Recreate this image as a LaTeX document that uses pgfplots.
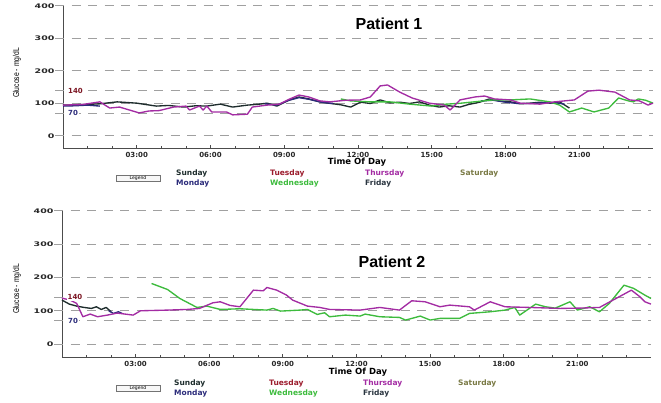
\documentclass[border=0pt]{standalone}
\usepackage{pgfplots}
\pgfplotsset{compat=1.18}
\usepackage{fontspec}
\setmainfont{Liberation Sans}
\newfontfamily\djfont{DejaVu Sans}
\definecolor{csun}{HTML}{1E2D2D}
\definecolor{cmon}{HTML}{2B2B7A}
\definecolor{ctue}{HTML}{9B1C2C}
\definecolor{cwed}{HTML}{3DBB3D}
\definecolor{cthu}{HTML}{A32CA3}
\definecolor{cfri}{HTML}{2A3540}
\definecolor{csat}{HTML}{7A7A45}
\definecolor{cgrid}{HTML}{A0A0A0}
\newcommand{\yl}[1]{\scalebox{1.5}[1]{\djfont\bfseries\fontsize{6.3}{7}\selectfont #1}}
\tikzset{gridline/.style={draw=cgrid, line width=1pt, dash pattern=on 9pt off 7.5pt},
  lblfont/.style={font=\djfont\bfseries\fontsize{7}{8}\selectfont},
  leg/.style={font=\djfont\bfseries\fontsize{7.5}{8}\selectfont, anchor=west, inner sep=0pt}}
\pgfplotsset{glu/.style={scale only axis, xmin=0, xmax=24, ymax=400,
  axis x line=bottom, axis y line=left,
  axis line style={-, draw=black!70, line width=1pt},
  xtick={3,6,...,21}, xticklabels={03:00,06:00,09:00,12:00,15:00,18:00,21:00},
  minor xtick={1,2,4,5,7,8,10,11,13,14,16,17,19,20,22,23},
  tick align=inside, major tick length=4pt, minor tick length=3pt,
  tick style={black!70, line width=0.8pt},
  ytick={0,100,200,300,400}, yticklabels={\yl{0},\yl{100},\yl{200},\yl{300},\yl{400}},
  ytick style={draw=none},
  clip=false,
  xticklabel style={/tikz/lblfont, text=black!85},
  yticklabel style={text=black!85, xshift=-5pt},
  every axis plot/.append style={line width=1.35pt, no markers, line join=round}}}
\begin{document}
\begin{tikzpicture}[x=1pt,y=1pt]
\useasboundingbox (0,0) rectangle (661,403);
% ---------------- Patient 1 ----------------
\begin{axis}[glu, at={(63pt,254pt)}, anchor=south west, width=590pt, height=143pt, ymin=-40]
\pgfplotsinvokeforeach{0,70,100,140,200,300,400}{\draw[gridline] ([xshift=-8pt]axis cs:0,#1) -- (axis cs:24,#1);}
% Sunday
\addplot[csun] coordinates {(0,95)(0.9,97)(1.5,99)(2.2,105)(3.0,101)(3.8,92)(4.3,94)(4.9,89)(5.4,93)(5.85,92)(6.4,98)(6.9,89)(7.5,95)(8.0,98)(8.3,101)(8.7,92)(9.2,111)(9.6,120)(10.0,114)(10.45,105)(10.8,101)(11.3,96)(11.7,89)(12.1,104)(12.5,100)(12.9,111)(13.3,102)(13.7,104)(14.1,100)(14.5,105)(14.9,95)(15.3,89)(15.7,93)(16.15,89)(16.5,97)(16.95,104)(17.35,114)(17.8,107)(18.2,105)(18.6,99)(19.0,101)(19.4,104)(19.8,101)(20.2,105)(20.6,86)};
% Monday
\addplot[cmon] coordinates {(0,92)(0.5,93)(1.0,95)(1.5,92)};
\addplot[cmon] coordinates {(8.2,99)(8.7,95)(9.2,110)(9.6,118)(10.0,113)(10.5,104)(11.0,100)};
\addplot[cmon] coordinates {(17.0,108)(17.5,110)(18.0,104)(18.5,100)(19.0,100)(19.5,102)(20.0,103)(20.4,98)};
% Wednesday
\addplot[cwed] coordinates {(11.3,114)(11.7,108)(12.5,105)(13.3,105)(14.1,98)(15.0,92)(15.6,98)(16.2,101)(17.1,108)(17.5,111)(18.2,111)(19.0,114)(19.8,105)(20.2,95)(20.6,74)(21.1,86)(21.6,74)(22.2,86)(22.6,117)(23.0,108)(23.2,105)(23.4,114)(23.7,110)(24,101)};
% Thursday
\addplot[cthu] coordinates {(0,95)(0.8,97)(1.5,105)(1.9,86)(2.3,89)(2.7,80)(3.1,71)(3.5,77)(3.9,78)(4.5,89)(5.0,92)(5.15,80)(5.55,92)(5.7,80)(5.85,92)(6.05,74)(6.65,74)(6.9,65)(7.5,67)(7.7,89)(8.3,95)(8.8,98)(9.2,113)(9.6,126)(10.0,120)(10.45,108)(10.85,105)(11.5,110)(12.1,111)(12.5,120)(12.9,154)(13.2,157)(13.7,135)(14.2,117)(14.9,101)(15.5,95)(15.75,80)(16.15,111)(16.75,120)(17.15,123)(17.55,114)(18.2,111)(18.6,101)(19.4,98)(20.0,105)(20.8,111)(21.35,138)(21.8,141)(22.45,135)(23.05,111)(23.45,108)(23.8,95)(24,101)};
\end{axis}
\node[font=\bfseries\fontsize{16}{18}\selectfont] at (389,379) {Patient 1};
\node[rotate=90] at (17,330) {\scalebox{0.8}[1]{\fontsize{8.5}{9}\selectfont Glucose - mg/dL}};
\node[lblfont, text=ctue!80!black, fill=white, inner sep=1pt] at (75.5,312) {140};
\node[lblfont, text=cmon, fill=white, inner sep=1pt] at (73,290) {70};
\node[font=\djfont\bfseries\fontsize{8.5}{9}\selectfont] at (357,241) {Time Of Day};
\draw[black!55, line width=0.8pt, fill=black!3] (116,222) rectangle (160,228);
\node[font=\djfont\fontsize{4.5}{5}\selectfont, inner sep=0pt] at (138,225) {Legend};
\node[leg, text=csun] at (176,230) {Sunday};
\node[leg, text=cmon] at (176,220) {Monday};
\node[leg, text=ctue] at (270,230) {Tuesday};
\node[leg, text=cwed] at (270,220) {Wednesday};
\node[leg, text=cthu] at (365,230) {Thursday};
\node[leg, text=cfri] at (365,220) {Friday};
\node[leg, text=csat] at (460,230) {Saturday};
% ---------------- Patient 2 ----------------
\begin{axis}[glu, at={(62pt,45pt)}, anchor=south west, width=589pt, height=147pt, ymin=-42]
\pgfplotsinvokeforeach{0,70,100,140,200,300,400}{\draw[gridline] ([xshift=-8pt]axis cs:0,#1) -- (axis cs:24,#1);}
% Sunday
\addplot[csun] coordinates {(0,132)(0.3,120)(0.6,114)(0.9,110)(1.2,107)(1.4,112)(1.6,104)(1.8,110)(2.0,97)};
% Monday
\addplot[cmon] coordinates {(1.9,100)(2.1,92)(2.3,97)(2.45,92)};
% Wednesday
\addplot[cwed] coordinates {(3.65,182)(4.3,164)(4.8,137)(5.5,110)(5.9,114)(6.45,104)(7.25,106)(8.35,102)(8.6,107)(8.9,99)(9.7,102)(10.0,104)(10.4,89)(10.7,94)(10.9,82)(11.55,87)(12.15,84)(12.35,90)(12.95,82)(13.75,80)(14.0,72)(14.6,84)(15.0,72)(15.4,77)(16.2,77)(16.6,92)(17.45,97)(18.05,102)(18.45,110)(18.65,87)(19.3,120)(19.7,112)(20.1,108)(20.7,127)(21.0,102)(21.5,112)(21.9,97)(22.3,122)(22.9,177)(23.3,167)(23.75,147)(24,137)};
% Thursday
\addplot[cthu] coordinates {(0,138)(0.33,132)(0.6,122)(0.85,82)(1.15,90)(1.45,82)(1.85,87)(2.25,93)(2.9,87)(3.2,100)(4.3,102)(5.1,104)(5.6,107)(6.15,124)(6.45,127)(6.85,116)(7.25,112)(7.8,162)(8.2,160)(8.35,170)(8.75,162)(9.15,147)(9.4,132)(10.0,114)(10.5,110)(10.9,104)(12.15,102)(12.95,110)(13.75,102)(14.25,130)(14.8,127)(15.4,112)(15.8,117)(16.6,112)(16.8,102)(17.45,127)(18.05,112)(19.05,110)(20.3,107)(21.1,108)(21.9,110)(22.7,142)(23.2,162)(23.55,142)(23.75,127)(24,120)};
\end{axis}
\node[font=\bfseries\fontsize{16}{18}\selectfont] at (392,141) {Patient 2};
\node[rotate=90] at (17,114) {\scalebox{0.8}[1]{\fontsize{8.5}{9}\selectfont Glucose - mg/dL}};
\node[lblfont, text=ctue!80!black, fill=white, inner sep=1pt] at (75,106) {140};
\node[lblfont, text=cmon, fill=white, inner sep=1pt] at (73,82) {70};
\node[font=\djfont\bfseries\fontsize{8.5}{9}\selectfont] at (358,31) {Time Of Day};
\draw[black!55, line width=0.8pt, fill=black!3] (116,12) rectangle (160,18);
\node[font=\djfont\fontsize{4.5}{5}\selectfont, inner sep=0pt] at (138,15) {Legend};
\node[leg, text=csun] at (174,20) {Sunday};
\node[leg, text=cmon] at (174,10) {Monday};
\node[leg, text=ctue] at (269,20) {Tuesday};
\node[leg, text=cwed] at (269,10) {Wednesday};
\node[leg, text=cthu] at (363,20) {Thursday};
\node[leg, text=cfri] at (363,10) {Friday};
\node[leg, text=csat] at (458,20) {Saturday};
\end{tikzpicture}
\end{document}
